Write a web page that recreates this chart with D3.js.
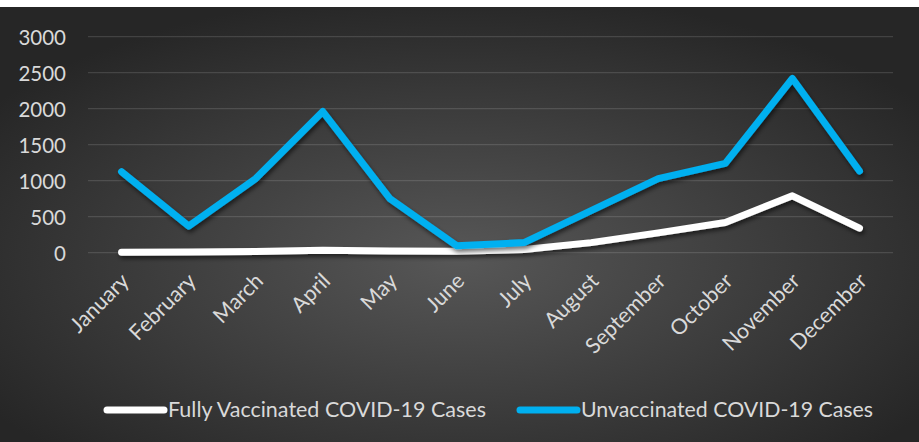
<!DOCTYPE html>
<html><head><meta charset="utf-8">
<script src="https://cdn.jsdelivr.net/npm/d3@7"></script>
<style>html,body{margin:0;padding:0;background:#fff;}svg{display:block;}</style>
</head><body>
<svg id="chart" width="919" height="442"></svg>
<script>
const months = ["January","February","March","April","May","June","July","August","September","October","November","December"];
const vaccinated = [5, 8, 15, 35, 25, 20, 45, 140, 275, 420, 790, 340];
const unvaccinated = [1125, 370, 1030, 1960, 750, 95, 140, 585, 1030, 1240, 2420, 1135];
const yTicks = [0, 500, 1000, 1500, 2000, 2500, 3000];
const seriesNames = ["Fully Vaccinated COVID-19 Cases", "Unvaccinated COVID-19 Cases"];
const seriesColors = ["#ffffff", "#00b0f0"];

const svg = d3.select("#chart");
const font = "Lato, 'Open Sans', sans-serif";
const textColor = "#d9d9d9";

const defs = svg.append("defs");
const grad = defs.append("radialGradient").attr("id","bg")
  .attr("cx","0.5").attr("cy","0.58").attr("r","0.62");
grad.append("stop").attr("offset","0").attr("stop-color","#575757");
grad.append("stop").attr("offset","1").attr("stop-color","#262626");
const f = defs.append("filter").attr("id","shadow").attr("x","-10%").attr("y","-10%").attr("width","130%").attr("height","140%");
f.append("feDropShadow").attr("dx",1.5).attr("dy",3).attr("stdDeviation",2.2)
  .attr("flood-color","#000").attr("flood-opacity",0.55);

svg.append("rect").attr("x",0).attr("y",7).attr("width",919).attr("height",435).attr("fill","url(#bg)");

const x = d3.scalePoint().domain(months).range([88, 893]).padding(0.5);
const y = d3.scaleLinear().domain([0, 3000]).range([252.7, 36.7]);

// gridlines
svg.append("g").selectAll("line").data(yTicks).join("line")
  .attr("x1", 88).attr("x2", 893)
  .attr("y1", d => y(d)).attr("y2", d => y(d))
  .attr("stroke", "rgba(255,255,255,0.13)").attr("stroke-width", 1.3);

// y axis labels
const yAxis = d3.axisLeft(y).tickValues(yTicks).tickSize(0).tickPadding(0).tickFormat(d3.format("d"));
const gy = svg.append("g").attr("transform","translate(66,0)").call(yAxis);
gy.select(".domain").remove();
gy.selectAll("text").attr("font-family", font).attr("font-size", 20.5).attr("fill", textColor).attr("dy","0.36em");

// x axis labels
const xAxis = d3.axisBottom(x).tickSize(0).tickPadding(0);
const gx = svg.append("g").attr("transform","translate(0,265)").call(xAxis);
gx.select(".domain").remove();
gx.selectAll("text")
  .attr("font-family", font).attr("font-size", 21.5).attr("fill", textColor)
  .attr("text-anchor","end").attr("dy","0.35em").attr("y",0).attr("x",0)
  .attr("transform","translate(3,12) rotate(-45)");

// lines
const line = d3.line().x((d,i) => x(months[i])).y(d => y(d));
[vaccinated, unvaccinated].forEach((s, k) => {
  svg.append("path").datum(s).attr("d", line)
    .attr("fill","none").attr("stroke", seriesColors[k]).attr("stroke-width", 7)
    .attr("stroke-linejoin","round").attr("stroke-linecap","round")
    .attr("filter","url(#shadow)");
});

// legend
const legendX = [107, 520];
const legendW = [318, 292];
seriesNames.forEach((n, k) => {
  const g = svg.append("g").attr("transform", `translate(${legendX[k]},410)`);
  g.append("line").attr("x1",0).attr("x2",57).attr("y1",0).attr("y2",0)
    .attr("stroke", seriesColors[k]).attr("stroke-width",7).attr("stroke-linecap","round");
  g.append("text").attr("x",61).attr("y",0).attr("dy","0.35em")
    .attr("font-family", font).attr("font-size", 21).attr("fill", textColor)
    .attr("textLength", legendW[k]).attr("lengthAdjust","spacingAndGlyphs")
    .text(n);
});
</script>
</body></html>
